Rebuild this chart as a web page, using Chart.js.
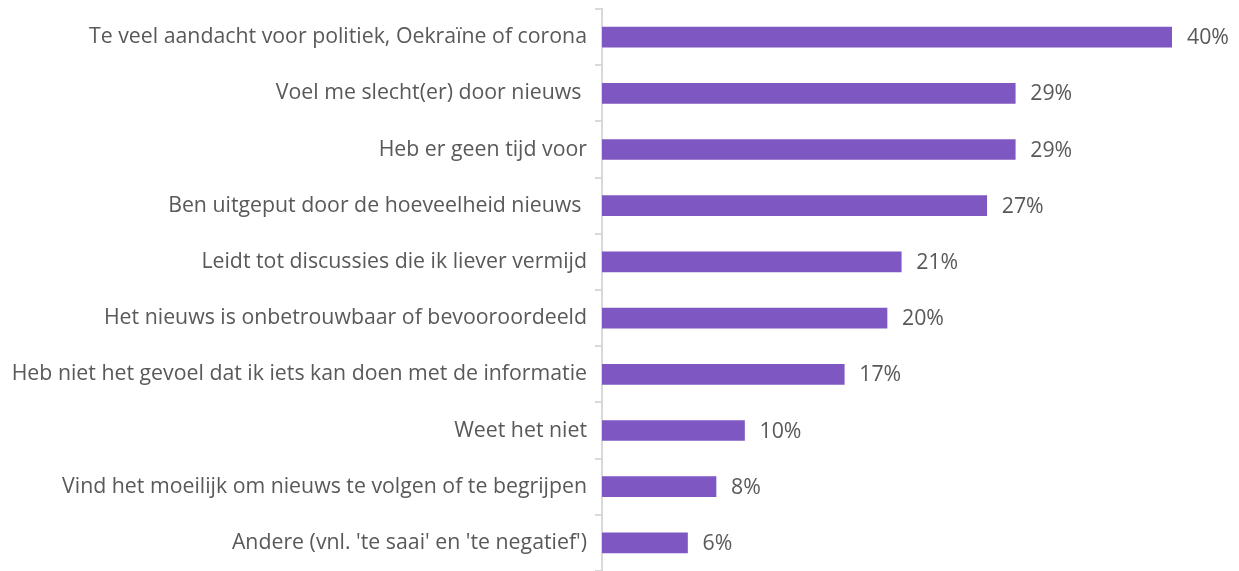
<!DOCTYPE html>
<html>
<head>
<meta charset="utf-8">
<script src="https://cdn.jsdelivr.net/npm/chart.js@4.4.0/dist/chart.umd.min.js"></script>
<style>
  html, body { margin: 0; padding: 0; background: #fff; }
  #wrap { width: 1239px; height: 571px; }
</style>
</head>
<body>
<div id="wrap"><canvas id="chart"></canvas></div>
<script>
const categories = [
  "Te veel aandacht voor politiek, Oekraïne of corona",
  "Voel me slecht(er) door nieuws ",
  "Heb er geen tijd voor",
  "Ben uitgeput door de hoeveelheid nieuws ",
  "Leidt tot discussies die ik liever vermijd",
  "Het nieuws is onbetrouwbaar of bevooroordeeld",
  "Heb niet het gevoel dat ik iets kan doen met de informatie",
  "Weet het niet",
  "Vind het moeilijk om nieuws te volgen of te begrijpen",
  "Andere (vnl. 'te saai' en 'te negatief')"
];
const values = [40, 29, 29, 27, 21, 20, 17, 10, 8, 6];

const fontFamily = "'Open Sans', sans-serif";
const fontSize = 21.3;
const textColor = "#595959";

// value labels right of the bars
const valueLabels = {
  id: "valueLabels",
  afterDatasetsDraw(chart) {
    const ctx = chart.ctx;
    const meta = chart.getDatasetMeta(0);
    ctx.save();
    ctx.font = fontSize + "px " + fontFamily;
    ctx.fillStyle = textColor;
    ctx.textBaseline = "middle";
    meta.data.forEach((bar, i) => {
      ctx.fillText(values[i] + "%", bar.x + 15, bar.y + 1);
    });
    ctx.restore();
  }
};

new Chart(document.getElementById("chart"), {
  type: "bar",
  data: {
    labels: categories,
    datasets: [{
      data: values,
      backgroundColor: "#7E57C2",
      barThickness: 20
    }]
  },
  options: {
    indexAxis: "y",
    responsive: true,
    maintainAspectRatio: false,
    animation: false,
    layout: { padding: { top: 9, bottom: -3, right: 67, left: 0 } },
    plugins: { legend: { display: false }, tooltip: { enabled: false } },
    scales: {
      x: { display: false, min: 0, max: 40 },
      y: {
        afterFit(scale) {
          scale.width = 602;
          scale.paddingTop = 0;
          scale.paddingBottom = 0;
        },
        grid: {
          offset: true,
          drawOnChartArea: false,
          tickLength: 7,
          color: "#d9d9d9",
          lineWidth: 2
        },
        border: { color: "#d9d9d9", width: 2 },
        ticks: {
          color: textColor,
          padding: 8,
          font: { family: fontFamily, size: fontSize }
        }
      }
    }
  },
  plugins: [valueLabels]
});
</script>
</body>
</html>
